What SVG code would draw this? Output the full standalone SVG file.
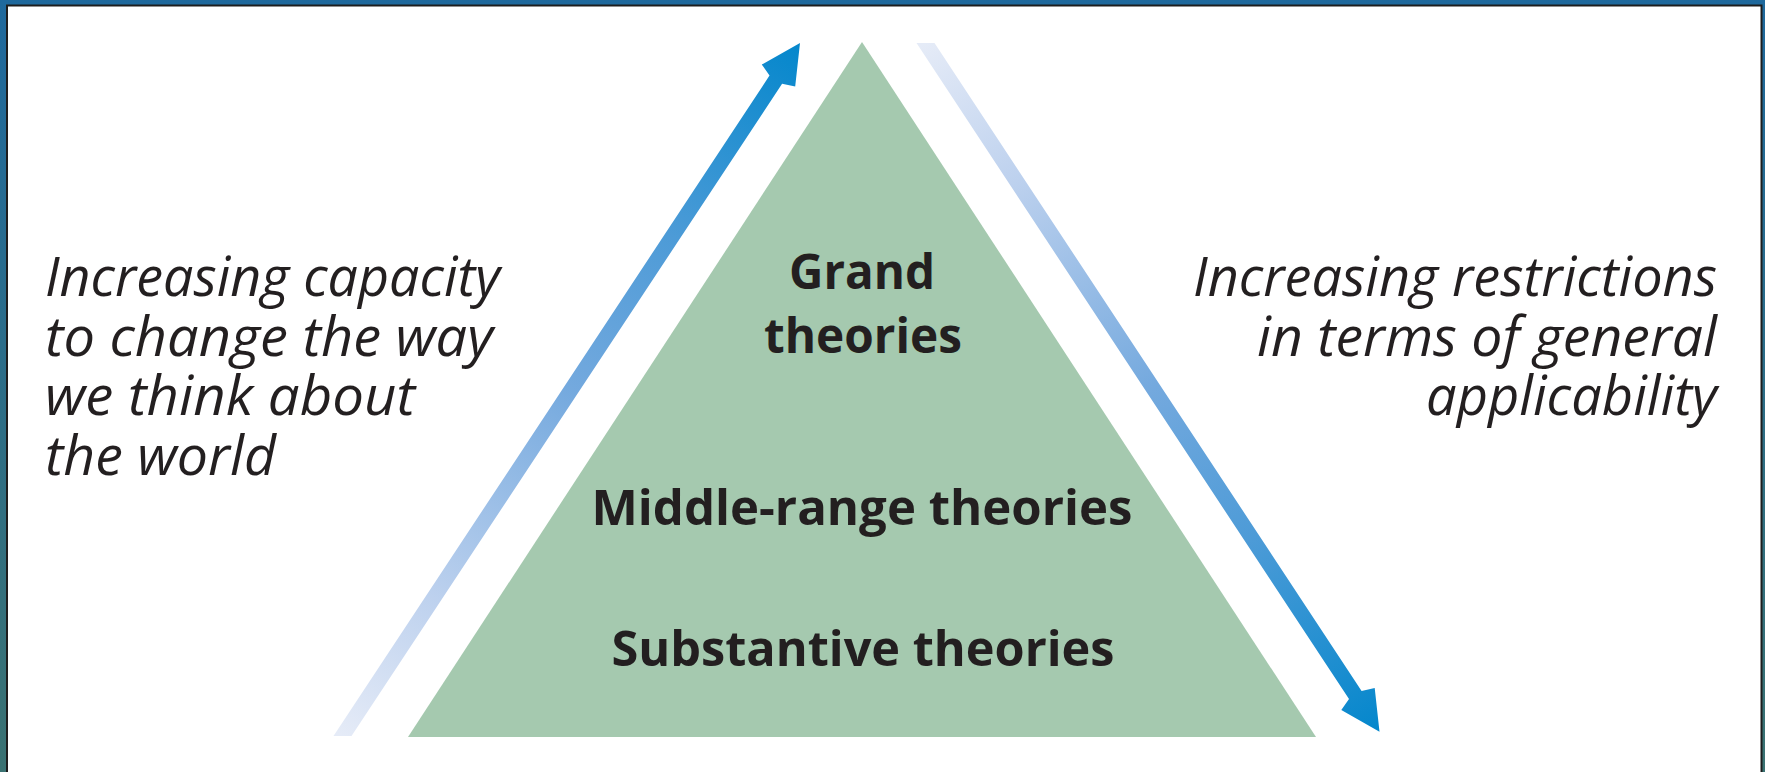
<svg xmlns="http://www.w3.org/2000/svg" width="1765" height="772" viewBox="0 0 1765 772">
<style>
.it{font-family:"Open Sans","Liberation Sans",sans-serif;font-style:italic;font-size:54px;fill:#231f20}
.bd{font-family:"Open Sans","Liberation Sans",sans-serif;font-weight:bold;font-size:48px;fill:#231f20;text-anchor:middle}
.end{text-anchor:end}
</style>
<defs>
<linearGradient id="bg" x1="0" y1="0" x2="0" y2="1">
<stop offset="0" stop-color="#1f699d"/>
<stop offset="1" stop-color="#3a7272"/>
</linearGradient>
<linearGradient id="gUp" gradientUnits="userSpaceOnUse" x1="342" y1="736" x2="800" y2="43">
<stop offset="0" stop-color="#e5ebf7"/>
<stop offset="0.2" stop-color="#bdd1ee"/>
<stop offset="0.5" stop-color="#74a9de"/>
<stop offset="0.72" stop-color="#4d9bd7"/>
<stop offset="1" stop-color="#0487cc"/>
</linearGradient>
<linearGradient id="gDown" gradientUnits="userSpaceOnUse" x1="925" y1="43" x2="1379" y2="731">
<stop offset="0" stop-color="#e5ebf7"/>
<stop offset="0.2" stop-color="#bdd1ee"/>
<stop offset="0.5" stop-color="#74a9de"/>
<stop offset="0.72" stop-color="#4d9bd7"/>
<stop offset="1" stop-color="#0487cc"/>
</linearGradient>
</defs>
<rect x="0" y="0" width="1765" height="772" fill="url(#bg)"/>
<rect x="7" y="5.5" width="1754.5" height="800" fill="#ffffff" stroke="#1e1e1e" stroke-width="2"/>
<g id="pyramid">
<polygon points="862,42 408,737 1316,737" fill="#a5c9af"/>
</g>
<g id="connectors">
<polygon id="arrow-up" points="333.5,736 769.5,75.6 761.8,64.5 800,43 795.2,86.5 782.1,83.8 351.5,736" fill="url(#gUp)"/>
<polygon id="arrow-down" points="916.5,43 934.5,43 1361.6,690.9 1374.7,688.1 1379.5,731.7 1341.3,710.1 1349,699.1" fill="url(#gDown)"/>
</g>
<g id="grand">
<text class="bd" x="862" y="289" textLength="146" lengthAdjust="spacingAndGlyphs">Grand</text>
<text class="bd" x="863" y="353" textLength="198" lengthAdjust="spacingAndGlyphs">theories</text>
</g>
<g id="middle-range">
<text class="bd" x="862" y="525" textLength="541" lengthAdjust="spacingAndGlyphs">Middle-range theories</text>
</g>
<g id="substantive">
<text class="bd" x="863" y="666" textLength="503" lengthAdjust="spacingAndGlyphs">Substantive theories</text>
</g>
<g id="left-label">
<text class="it" x="45" y="296" textLength="455" lengthAdjust="spacingAndGlyphs">Increasing capacity</text>
<text class="it" x="45" y="356" textLength="448" lengthAdjust="spacingAndGlyphs">to change the way</text>
<text class="it" x="45" y="415" textLength="370" lengthAdjust="spacingAndGlyphs">we think about</text>
<text class="it" x="45" y="475" textLength="231" lengthAdjust="spacingAndGlyphs">the world</text>
</g>
<g id="right-label">
<text class="it end" x="1717" y="296" textLength="524" lengthAdjust="spacingAndGlyphs">Increasing restrictions</text>
<text class="it end" x="1717" y="356" textLength="460" lengthAdjust="spacingAndGlyphs">in terms of general</text>
<text class="it end" x="1717" y="415" textLength="291" lengthAdjust="spacingAndGlyphs">applicability</text>
</g>
</svg>
